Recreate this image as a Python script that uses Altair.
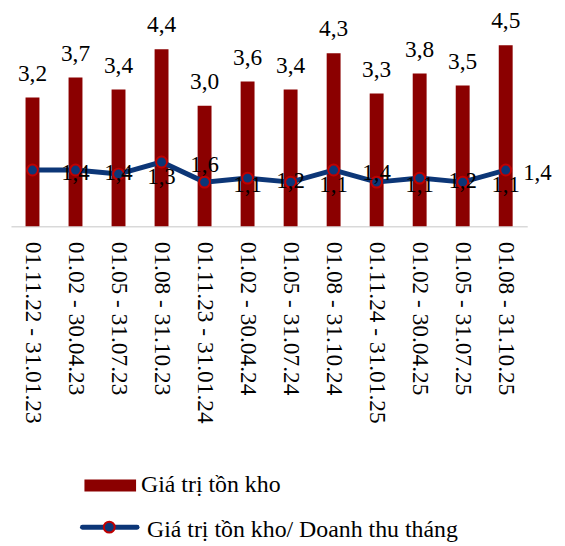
import altair as alt
import pandas as pd

periods = [
    "01.11.22 - 31.01.23", "01.02 - 30.04.23", "01.05 - 31.07.23", "01.08 - 31.10.23",
    "01.11.23 - 31.01.24", "01.02 - 30.04.24", "01.05 - 31.07.24", "01.08 - 31.10.24",
    "01.11.24 - 31.01.25", "01.02 - 30.04.25", "01.05 - 31.07.25", "01.08 - 31.10.25",
]
inventory = [3.2, 3.7, 3.4, 4.4, 3.0, 3.6, 3.4, 4.3, 3.3, 3.8, 3.5, 4.5]
ratio = [1.4, 1.4, 1.3, 1.6, 1.1, 1.2, 1.1, 1.4, 1.1, 1.2, 1.1, 1.4]
legend_labels = ["Giá trị tồn kho", "Giá trị tồn kho/ Doanh thu tháng"]

BAR = "#8B0000"
NAVY = "#0c3677"
RED = "#c00000"
FONT = "Liberation Serif"

df = pd.DataFrame({"period": periods, "inventory": inventory, "ratio": ratio,
                   "idx": list(range(len(periods)))})
leg = pd.DataFrame({"label": legend_labels, "item": [0, 1]})

x = alt.X("period:N", sort=periods, title=None,
          scale=alt.Scale(paddingInner=0, paddingOuter=0),
          axis=alt.Axis(labelAngle=90, labelAlign="left", labelBaseline="middle",
                        labelFont=FONT, labelFontSize=23.5, labelColor="black",
                        labelLimit=0, ticks=False, labelPadding=15,
                        domainColor="#d9d9d9", domainWidth=1.5))
yscale = alt.Scale(domain=[0, 5.33], nice=False, zero=True)

base = alt.Chart(df)

bars = base.mark_bar(color=BAR, size=14).encode(
    x=x, y=alt.Y("inventory:Q", scale=yscale, axis=None))

bar_text = base.transform_calculate(
    lbl="replace(format(datum.inventory, '.1f'), '.', ',')"
).mark_text(font=FONT, fontSize=23.5, baseline="alphabetic", dy=-17, color="black").encode(
    x=x, y=alt.Y("inventory:Q", scale=yscale, axis=None), text="lbl:N")

line = base.mark_line(color=NAVY, strokeWidth=5).encode(
    x=x, y=alt.Y("ratio:Q", scale=yscale, axis=None))

pts = base.mark_circle(color=NAVY, stroke=RED, strokeWidth=2, size=120, opacity=1).encode(
    x=x, y=alt.Y("ratio:Q", scale=yscale, axis=None))

ratio_lbl = "replace(format(datum.ratio, '.1f'), '.', ',')"
line_text = base.transform_calculate(lbl=ratio_lbl).transform_filter(
    "datum.idx < 11"
).mark_text(font=FONT, fontSize=23, baseline="middle", dx=43.3, dy=3, color="black").encode(
    x=x, y=alt.Y("ratio:Q", scale=yscale, axis=None), text="lbl:N")

line_text_last = base.transform_calculate(lbl=ratio_lbl).transform_filter(
    "datum.idx == 11"
).mark_text(font=FONT, fontSize=23, baseline="middle", dx=32, dy=3, color="black").encode(
    x=x, y=alt.Y("ratio:Q", scale=yscale, axis=None), text="lbl:N")

lb = alt.Chart(leg)
leg_rect = lb.transform_filter("datum.item == 0").mark_rect(color=BAR).encode(
    x=alt.value(74), x2=alt.value(126), y=alt.value(471), y2=alt.value(483))
leg_t1 = lb.transform_filter("datum.item == 0").mark_text(
    font=FONT, fontSize=24, align="left", baseline="alphabetic", color="black").encode(
    x=alt.value(131), y=alt.value(484), text="label:N")
leg_line = lb.transform_filter("datum.item == 1").mark_rule(
    color=NAVY, strokeWidth=5, strokeCap="round").encode(
    x=alt.value(72), x2=alt.value(127), y=alt.value(519))
leg_pt = lb.transform_filter("datum.item == 1").mark_circle(
    color=NAVY, stroke=RED, strokeWidth=2, size=120, opacity=1).encode(
    x=alt.value(99), y=alt.value(519))
leg_t2 = lb.transform_filter("datum.item == 1").mark_text(
    font=FONT, fontSize=24, align="left", baseline="alphabetic", color="black").encode(
    x=alt.value(137), y=alt.value(529), text="label:N")

chart = alt.layer(
    bars, bar_text, line, pts, line_text, line_text_last,
    leg_rect, leg_t1, leg_line, leg_pt, leg_t2
).properties(
    width=520, height=216,
    padding={"left": 3, "top": 2, "right": 30, "bottom": 318},
    autosize=alt.AutoSizeParams(type="none"),
    background="white",
).configure_view(stroke=None)

chart.save("out.html", embed_options={"renderer": "svg", "actions": False})
